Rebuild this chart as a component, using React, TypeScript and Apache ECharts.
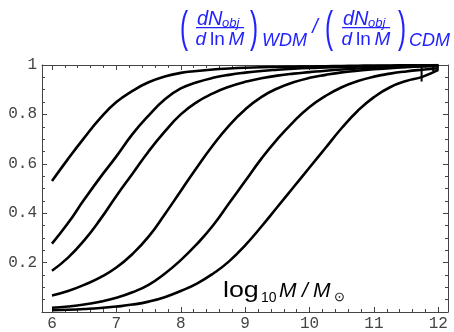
import React, { useEffect, useRef } from "react";
import * as echarts from "echarts";

// log10 M grid
const xValues = [6, 6.25, 6.5, 6.75, 7, 7.25, 7.5, 7.75, 8, 8.25, 8.5, 8.75, 9, 9.25, 9.5, 9.75, 10, 10.25, 10.5, 10.75, 11, 11.25, 11.5, 11.75, 12];

// ratio curves (WDM / CDM), from lightest cut-off to heaviest
const curveA = [0.53, 0.62, 0.705, 0.785, 0.85, 0.895, 0.93, 0.953, 0.968, 0.976, 0.982, 0.986, 0.989, 0.991, 0.992, 0.993, 0.994, 0.995, 0.996, 0.997, 0.998, 0.998, 0.999, 0.999, 1];
const curveB = [0.277, 0.36, 0.455, 0.545, 0.63, 0.72, 0.795, 0.86, 0.905, 0.93, 0.948, 0.96, 0.969, 0.976, 0.981, 0.985, 0.988, 0.99, 0.992, 0.994, 0.995, 0.996, 0.997, 0.998, 0.999];
const curveC = [0.167, 0.22, 0.29, 0.375, 0.47, 0.56, 0.65, 0.73, 0.8, 0.85, 0.885, 0.912, 0.932, 0.946, 0.957, 0.965, 0.971, 0.977, 0.982, 0.986, 0.989, 0.992, 0.994, 0.996, 0.997];
const curveD = [0.067, 0.085, 0.11, 0.14, 0.18, 0.235, 0.305, 0.395, 0.49, 0.585, 0.675, 0.755, 0.82, 0.87, 0.905, 0.93, 0.948, 0.96, 0.97, 0.977, 0.983, 0.987, 0.991, 0.994, 0.996];
const curveE = [0.017, 0.022, 0.03, 0.042, 0.058, 0.08, 0.11, 0.155, 0.21, 0.275, 0.35, 0.44, 0.53, 0.62, 0.7, 0.77, 0.83, 0.875, 0.91, 0.935, 0.953, 0.965, 0.974, 0.981, 0.987];
const curveF = [0.007, 0.009, 0.012, 0.016, 0.022, 0.03, 0.042, 0.06, 0.085, 0.115, 0.155, 0.205, 0.27, 0.345, 0.425, 0.505, 0.585, 0.665, 0.745, 0.815, 0.87, 0.91, 0.935, 0.952, 0.98];
const curves = [curveA, curveB, curveC, curveD, curveE, curveF];

// numerical glitches near the top right
const glitchX = [11.74, 11.92];
const glitchTop = [1, 1];
const glitchBottom = [0.933, 0.975];

// ticks
const xMajor = [6, 7, 8, 9, 10, 11, 12];
const xMinor = [6.2, 6.4, 6.6, 6.8, 7.2, 7.4, 7.6, 7.8, 8.2, 8.4, 8.6, 8.8, 9.2, 9.4, 9.6, 9.8, 10.2, 10.4, 10.6, 10.8, 11.2, 11.4, 11.6, 11.8, 12.2];
const yMajor = [0, 0.2, 0.4, 0.6, 0.8, 1];
const yLabels = [0.2, 0.4, 0.6, 0.8, 1];
const yMinor = [0.05, 0.1, 0.15, 0.25, 0.3, 0.35, 0.45, 0.5, 0.55, 0.65, 0.7, 0.75, 0.85, 0.9, 0.95];

const BLUE = "#2222ff";
const SANS = "'Liberation Sans', Arial, sans-serif";

function bl(baseline: number, size: number) {
  return baseline - 0.3465 * size;
}

function txt(text: string, x: number, baseline: number, size: number, opts: any = {}) {
  return {
    type: "text",
    x,
    y: bl(baseline, size),
    scaleX: opts.scaleX ?? 1,
    style: {
      text,
      fill: opts.fill ?? BLUE,
      font: `${opts.italic ? "italic " : ""}${size}px ${SANS}`,
      textAlign: opts.align ?? "left",
      textVerticalAlign: "middle",
    },
    silent: true,
  };
}

function fraction(cx: number) {
  const left = cx - 23;
  return [
    txt("dN", left, 25, 20, { italic: true }),
    txt("obj", left + 25, 27, 13, { italic: true }),
    {
      type: "rect",
      shape: { x: left - 1, y: 27, width: 48, height: 1.3 },
      style: { fill: BLUE },
      silent: true,
    },
    {
      type: "text",
      x: cx,
      y: bl(45, 19),
      style: {
        text: "{i|d}{r|\u2009ln\u2009}{i|M}",
        textAlign: "center",
        textVerticalAlign: "middle",
        rich: {
          i: { fontFamily: SANS, fontStyle: "italic", fontSize: 19, fill: BLUE, color: BLUE },
          r: { fontFamily: SANS, fontSize: 19, fill: BLUE, color: BLUE },
        },
      },
      silent: true,
    },
  ];
}

function paren(ch: string, cx: number) {
  return {
    type: "text",
    x: cx,
    y: 27,
    scaleX: 0.55,
    style: {
      text: ch,
      fill: BLUE,
      font: `44px ${SANS}`,
      textAlign: "center",
      textVerticalAlign: "middle",
    },
    silent: true,
  };
}

export default function App() {
  const ref = useRef<HTMLDivElement>(null);
  useEffect(() => {
    if (!ref.current) return;
    const chart = echarts.init(ref.current, null, { renderer: "svg" });
    const frameColor = "#444";
    const tickFont = { fontFamily: "'Liberation Mono', 'Courier New', monospace", fontSize: 16, color: "#444" };
    const xBase = { type: "value", min: 5.845, max: 12.15, gridIndex: 0, splitLine: { show: false } };
    const yBase = { type: "value", min: 0, max: 1, gridIndex: 0, splitLine: { show: false } };
    const lineOn = { show: true, onZero: false, lineStyle: { color: frameColor, width: 1 } };
    const lineOff = { show: false, onZero: false };

    const series: any[] = curves.map((c, k) => ({
      type: "line",
      name: "c" + k,
      xAxisIndex: 0,
      yAxisIndex: 0,
      data: xValues.map((x, i) => [x, c[i]]),
      showSymbol: false,
      smooth: 0.5,
      lineStyle: { color: "#000", width: 2.6 },
      clip: true,
      silent: true,
    }));
    glitchX.forEach((gx, i) => {
      series.push({
        type: "line",
        xAxisIndex: 0,
        yAxisIndex: 0,
        data: [[gx, glitchTop[i]], [gx, glitchBottom[i]]],
        showSymbol: false,
        lineStyle: { color: "#000", width: 2 },
        silent: true,
      });
    });

    chart.setOption({
      animation: false,
      grid: { left: 42, right: 6, top: 65, bottom: 17, containLabel: false },
      xAxis: [
        {
          ...xBase,
          position: "bottom",
          axisLine: lineOn,
          axisTick: { show: true, inside: true, length: 5, customValues: xMajor, lineStyle: { color: frameColor } },
          axisLabel: { show: true, customValues: xMajor, margin: 4, formatter: (v: number) => String(Math.round(v)), ...tickFont },
        },
        {
          ...xBase,
          position: "bottom",
          axisLine: lineOff,
          axisTick: { show: true, inside: true, length: 3, customValues: xMinor, lineStyle: { color: frameColor } },
          axisLabel: { show: false },
        },
        {
          ...xBase,
          position: "top",
          axisLine: lineOn,
          axisTick: { show: true, inside: true, length: 5, customValues: xMajor, lineStyle: { color: frameColor } },
          axisLabel: { show: false },
        },
        {
          ...xBase,
          position: "top",
          axisLine: lineOff,
          axisTick: { show: true, inside: true, length: 3, customValues: xMinor, lineStyle: { color: frameColor } },
          axisLabel: { show: false },
        },
      ],
      yAxis: [
        {
          ...yBase,
          position: "left",
          axisLine: lineOn,
          axisTick: { show: true, inside: true, length: 5, customValues: yMajor, lineStyle: { color: frameColor } },
          axisLabel: {
            show: true,
            customValues: yLabels,
            margin: 5,
            formatter: (v: number) => (Math.abs(v - 1) < 1e-9 ? "1" : v.toFixed(1)),
            ...tickFont,
          },
        },
        {
          ...yBase,
          position: "left",
          axisLine: lineOff,
          axisTick: { show: true, inside: true, length: 3, customValues: yMinor, lineStyle: { color: frameColor } },
          axisLabel: { show: false },
        },
        {
          ...yBase,
          position: "right",
          axisLine: lineOn,
          axisTick: { show: true, inside: true, length: 5, customValues: yMajor, lineStyle: { color: frameColor } },
          axisLabel: { show: false },
        },
        {
          ...yBase,
          position: "right",
          axisLine: lineOff,
          axisTick: { show: true, inside: true, length: 3, customValues: yMinor, lineStyle: { color: frameColor } },
          axisLabel: { show: false },
        },
      ],
      series,
      graphic: [
        paren("(", 184),
        ...fraction(220),
        paren(")", 254),
        txt("WDM", 262, 46, 18, { italic: true }),
        txt("/", 315, 33, 20, { align: "center", italic: true }),
        paren("(", 329),
        ...fraction(366),
        paren(")", 402),
        txt("CDM", 409, 46, 18, { italic: true }),
        // x axis title inside the plot
        txt("log", 223, 297, 22, { fill: "#000", scaleX: 1.22 }),
        txt("10", 261, 302, 14, { fill: "#000" }),
        txt("M", 279, 297, 21, { fill: "#000", italic: true }),
        txt("/", 302, 297, 21, { fill: "#000", italic: true }),
        txt("M", 313, 297, 21, { fill: "#000", italic: true }),
        txt("\u2299", 334, 301, 13, { fill: "#000" }),
      ],
    } as any);
    return () => chart.dispose();
  }, []);
  return <div ref={ref} style={{ position: "fixed", left: 0, top: 0, width: 454, height: 332 }} />;
}
